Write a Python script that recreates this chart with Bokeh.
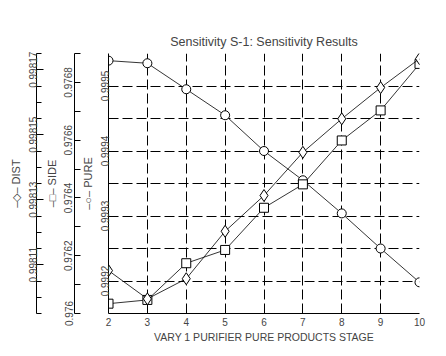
from bokeh.plotting import figure
from bokeh.models import (Range1d, LinearAxis, FixedTicker, PrintfTickFormatter)
from bokeh.embed import file_html
from bokeh.resources import INLINE

stage = [2, 3, 4, 5, 6, 7, 8, 9, 10]
pure = [0.999539, 0.999535, 0.999495, 0.999455, 0.999400, 0.999355, 0.999304, 0.999250, 0.999198]
side = [0.976034, 0.976047, 0.976174, 0.976220, 0.976366, 0.976447, 0.976599, 0.976703, 0.976864]
dist = [0.9981082, 0.9980995, 0.9981057, 0.9981203, 0.9981313, 0.9981446, 0.9981549, 0.9981645, 0.9981734]

pure_ticks = [0.9992, 0.9993, 0.9994, 0.9995]
pure_minor = [0.99915, 0.99925, 0.99935, 0.99945]
side_ticks = [0.976, 0.9762, 0.9764, 0.9766, 0.9768]
side_minor = [0.9761, 0.9763, 0.9765, 0.9767, 0.9769]
dist_ticks = [0.99811, 0.99813, 0.99815, 0.99817]
dist_minor = [0.998095, 0.998100, 0.998105, 0.998115, 0.998120, 0.998125,
              0.998135, 0.998140, 0.998145, 0.998155, 0.998160, 0.998165, 0.998175]

FONT = "Liberation Sans"

p = figure(width=440, height=350, output_backend="svg", toolbar_location=None,
           x_range=Range1d(2, 10), y_range=Range1d(0.99915, 0.99955),
           title="Sensitivity S-1: Sensitivity Results",
           min_border_left=108, min_border_right=21, min_border_top=53, min_border_bottom=37)
p.outline_line_color = None
p.background_fill_color = "white"
p.title.align = "center"
p.title.text_font = FONT
p.title.text_font_size = "12.5px"
p.title.text_font_style = "normal"
p.title.standoff = 10

p.extra_y_ranges = {"side": Range1d(0.976, 0.9769), "dist": Range1d(0.998095, 0.998175)}

# x axis
xa = p.xaxis[0]
xa.ticker = FixedTicker(ticks=stage)
xa.axis_label = "VARY 1 PURIFIER PURE PRODUCTS STAGE"
xa.axis_label_text_font = FONT
xa.axis_label_text_font_size = "10.5px"
xa.axis_label_text_font_style = "normal"
xa.axis_label_standoff = 2
xa.major_label_text_font = FONT
xa.major_label_text_font_size = "10px"
xa.major_label_standoff = 4
xa.major_tick_out = 0
xa.major_tick_in = 0
xa.minor_tick_out = 0
xa.minor_tick_in = 0
xa.axis_line_color = "black"

def style_y(ax, label, label_standoff, tick_standoff):
    ax.axis_label = label
    ax.axis_label_text_font = FONT
    ax.axis_label_text_font_size = "11px"
    ax.axis_label_text_font_style = "normal"
    ax.axis_label_standoff = label_standoff
    ax.major_label_text_font = FONT
    ax.major_label_text_font_size = "10px"
    ax.major_label_orientation = "vertical"
    ax.major_label_standoff = tick_standoff
    ax.formatter = PrintfTickFormatter(format="%g")
    ax.axis_line_color = "black"
    ax.major_tick_line_color = "black"
    ax.minor_tick_line_color = "black"

def spacer(n):
    # empty axis used only to reserve horizontal room between the stacked axes
    return LinearAxis(ticker=FixedTicker(ticks=[]), axis_line_color=None,
                      major_tick_line_color=None, minor_tick_line_color=None,
                      major_tick_out=0, major_tick_in=0, minor_tick_out=0, minor_tick_in=0,
                      major_label_standoff=0, axis_label=" ",
                      axis_label_standoff=n, axis_label_text_font_size="1px")

ya = p.yaxis[0]
ya.ticker = FixedTicker(ticks=pure_ticks, minor_ticks=pure_minor)
style_y(ya, "\u2013\u25cb\u2013 PURE", 4, 0)
ya.major_tick_out = 0
ya.major_tick_in = 0
ya.minor_tick_out = 0
ya.minor_tick_in = 0

p.add_layout(spacer(0), "left")

side_ax = LinearAxis(y_range_name="side", ticker=FixedTicker(ticks=side_ticks, minor_ticks=side_minor))
style_y(side_ax, "\u2013\u25a1\u2013 SIDE", 4, 2)
side_ax.major_tick_out = 0
side_ax.major_tick_in = 6
side_ax.minor_tick_out = 0
side_ax.minor_tick_in = 6
p.add_layout(side_ax, "left")

p.add_layout(spacer(2), "left")

dist_ax = LinearAxis(y_range_name="dist", ticker=FixedTicker(ticks=dist_ticks, minor_ticks=dist_minor))
style_y(dist_ax, "\u2013\u25c7\u2013 DIST", 4, 0)
dist_ax.major_tick_out = 0
dist_ax.major_tick_in = 7
dist_ax.minor_tick_out = 0
dist_ax.minor_tick_in = 5
p.add_layout(dist_ax, "left")

# grid
p.xgrid.ticker = FixedTicker(ticks=stage)
p.xgrid.grid_line_color = "black"
p.xgrid.grid_line_dash = "10 4"
p.xgrid.grid_line_width = 1
p.ygrid.grid_line_color = "black"
p.ygrid.grid_line_dash = "10 4"
p.ygrid.grid_line_width = 1
p.ygrid.minor_grid_line_color = "black"
p.ygrid.minor_grid_line_dash = "10 4"

# series
p.line(stage, pure, line_color="black", line_width=0.8)
p.scatter(stage, pure, marker="circle", size=9, fill_color="white", line_color="black")
p.line(stage, side, line_color="black", line_width=0.8, y_range_name="side")
p.scatter(stage, side, marker="square", size=9, fill_color="white", line_color="black", y_range_name="side")
p.line(stage, dist, line_color="black", line_width=0.8, y_range_name="dist")
p.scatter(stage, dist, marker="diamond", size=12, fill_color="white", line_color="black", y_range_name="dist")

open("out.html", "w").write(file_html(p, INLINE))
